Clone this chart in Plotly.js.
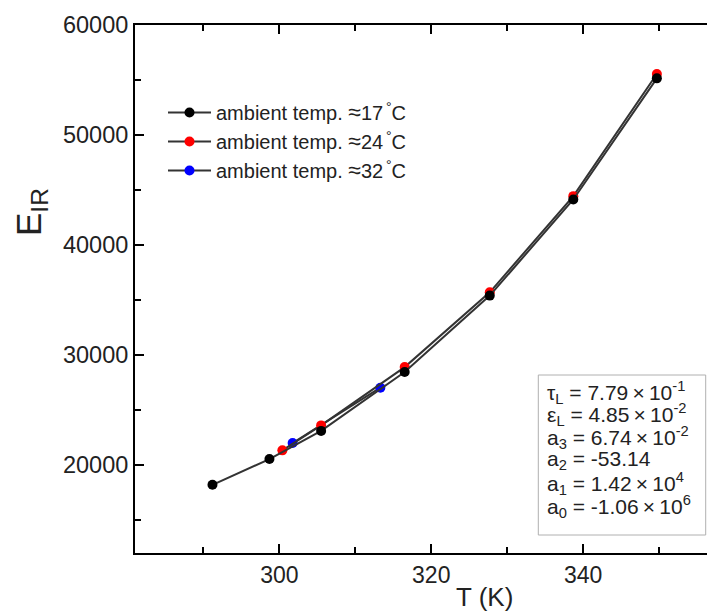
<!DOCTYPE html>
<html>
<head>
<meta charset="utf-8">
<script src="https://cdn.plot.ly/plotly-3.0.1.min.js"></script>
<style>html,body{margin:0;padding:0;background:#fff;}#chart{width:707px;height:615px;}</style>
</head>
<body>
<div id="chart"></div>
<script>
// Data
const T_17 = [291.2, 298.7, 305.5, 316.5, 327.7, 338.7, 349.7];
const E_17 = [18200, 20540, 23100, 28450, 35400, 44140, 55150];
const T_24 = [300.4, 305.5, 316.5, 327.7, 338.7, 349.7];
const E_24 = [21330, 23600, 28900, 35700, 44440, 55540];
const T_32 = [301.75, 313.3];
const E_32 = [22000, 27030];
const APPROX = '<span style="font-size:23px">≈</span>';
const seriesNames = [
  'ambient temp. ' + APPROX + '17<sup>\u2009°</sup>C',
  'ambient temp. ' + APPROX + '24<sup>\u2009°</sup>C',
  'ambient temp. ' + APPROX + '32<sup>\u2009°</sup>C'
];
const X = '\u2009×\u2009';
const paramLines = [
  'τ<sub>L</sub> = 7.79' + X + '10<sup>-1</sup>',
  'ε<sub>L</sub> = 4.85' + X + '10<sup>-2</sup>',
  'a<sub>3</sub> = 6.74' + X + '10<sup>-2</sup>',
  'a<sub>2</sub> = -53.14',
  'a<sub>1</sub> = 1.42' + X + '10<sup>4</sup>',
  'a<sub>0</sub> = -1.06' + X + '10<sup>6</sup>'
];

const W = 707, H = 615;
const M = {l: 135, r: 0, t: 25, b: 62};
const PW = W - M.l - M.r, PH = H - M.t - M.b;
const px2x = px => (px - M.l) / PW;
const py2y = py => 1 - (py - M.t) / PH;

const FONT = 'Liberation Sans, Arial, Helvetica, sans-serif';
const lineStyle = {color: '#333333', width: 2};

function mk(x, y, name, color) {
  return {x: x, y: y, name: name, type: 'scatter', mode: 'lines+markers',
    line: lineStyle, marker: {color: color, size: 10}};
}
const traces = [
  mk(T_32, E_32, seriesNames[2], '#0000ff'),
  mk(T_24, E_24, seriesNames[1], '#ff0000'),
  mk(T_17, E_17, seriesNames[0], '#000000')
];

const annotations = paramLines.map((t, i) => ({
  text: t, xref: 'paper', yref: 'paper', x: px2x(545), y: py2y(392 + i * 22.8),
  xanchor: 'left', yanchor: 'middle', showarrow: false,
  font: {family: FONT, size: 21, color: '#222'}
}));
annotations.push({
  text: 'E<sub>IR</sub>', xref: 'paper', yref: 'paper', x: px2x(31), y: py2y(212),
  xanchor: 'center', yanchor: 'middle', showarrow: false, textangle: -90,
  font: {family: FONT, size: 35, color: '#222'}
});
annotations.push({
  text: 'T (K)', xref: 'paper', yref: 'paper', x: px2x(484), y: py2y(597),
  xanchor: 'center', yanchor: 'middle', showarrow: false,
  font: {family: FONT, size: 26, color: '#222'}
});

const layout = {
  width: W, height: H, margin: M,
  paper_bgcolor: '#fff', plot_bgcolor: '#fff',
  font: {family: FONT, color: '#222'},
  showlegend: true,
  legend: {x: px2x(163), y: py2y(93), xanchor: 'left', yanchor: 'top',
    traceorder: 'reversed', bgcolor: 'rgba(0,0,0,0)', itemwidth: 43,
    font: {family: FONT, size: 20, color: '#222'}},
  xaxis: {range: [281.0, 356.3], dtick: 20, tick0: 300, showgrid: false, zeroline: false,
    showline: true, linecolor: '#000', linewidth: 2, mirror: 'ticks',
    ticks: 'inside', ticklen: 9, tickwidth: 2, tickcolor: '#000',
    tickfont: {family: FONT, size: 23, color: '#222'},
    minor: {dtick: 10, ticks: 'inside', ticklen: 6, tickwidth: 2, tickcolor: '#000', showgrid: false}},
  yaxis: {range: [12000, 60000], dtick: 10000, tickformat: 'd', showgrid: false, zeroline: false,
    showline: true, linecolor: '#000', linewidth: 2,
    ticks: 'inside', ticklen: 9, tickwidth: 2, tickcolor: '#000',
    tickfont: {family: FONT, size: 23.5, color: '#222'},
    minor: {dtick: 5000, ticks: 'inside', ticklen: 6, tickwidth: 2, tickcolor: '#000', showgrid: false}},
  shapes: [{type: 'rect', xref: 'paper', yref: 'paper',
    x0: px2x(538.3), x1: px2x(705.7), y0: py2y(535), y1: py2y(375),
    line: {color: '#b0b0b0', width: 1}}],
  annotations: annotations
};

Plotly.newPlot('chart', traces, layout, {displayModeBar: false, staticPlot: true});
</script>
</body>
</html>
